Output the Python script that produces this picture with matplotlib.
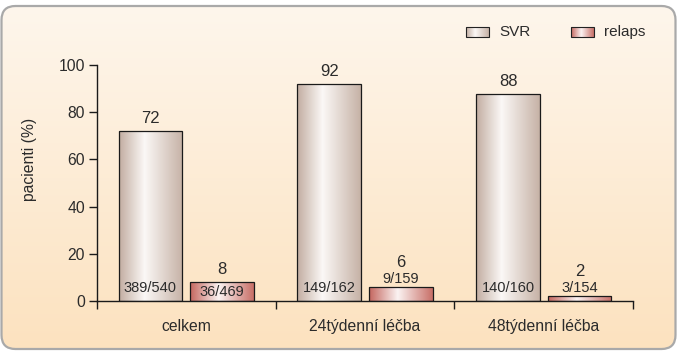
import matplotlib
matplotlib.use("Agg")
import matplotlib.pyplot as plt
import numpy as np
from matplotlib.colors import LinearSegmentedColormap
from matplotlib.patches import FancyBboxPatch, Rectangle

plt.rcParams['font.family'] = ['Liberation Sans', 'DejaVu Sans']

categories = ["celkem", "24týdenní léčba", "48týdenní léčba"]
svr_values = [72, 92, 88]
relaps_values = [8, 6, 2]
svr_counts = ["389/540", "149/162", "140/160"]
relaps_counts = ["36/469", "9/159", "3/154"]
series_names = ["SVR", "relaps"]
yticks = [0, 20, 40, 60, 80, 100]

TXT = "#2b2b2b"
svr_cmap = LinearSegmentedColormap.from_list(
    "svr", [(0, "#c2ada1"), (0.4, "#fbf8f6"), (1, "#c6b2a6")])
rel_cmap = LinearSegmentedColormap.from_list(
    "rel", [(0, "#c4665e"), (0.45, "#fbf3f2"), (1, "#c86f67")])
bg_cmap = LinearSegmentedColormap.from_list("bg", ["#fce2bf", "#fef6ec"])

W, H = 680, 355
fig = plt.figure(figsize=(W / 100, H / 100), dpi=100)
fig.patch.set_facecolor("white")

# background panel
bg = fig.add_axes([0, 0, 1, 1], zorder=-5)
bg.set_xlim(0, W)
bg.set_ylim(0, H)
bg.axis("off")
panel = FancyBboxPatch((1.5, 6), 674, 343, boxstyle="round,pad=0,rounding_size=14",
                       facecolor="none", edgecolor="#a9a9a9", lw=1.6, zorder=3)
bg.add_patch(panel)
grad = np.linspace(0, 1, 256).reshape(-1, 1)
im = bg.imshow(grad, cmap=bg_cmap, origin="lower", extent=(1.5, 675.5, 6, 349),
               aspect="auto", zorder=1)
im.set_clip_path(panel)

# legend (manual, with gradient swatches)
hgrad = np.linspace(0, 1, 256).reshape(1, -1)
for name, cmap, x0 in zip(series_names, [svr_cmap, rel_cmap], [466, 571]):
    r = Rectangle((x0, 318), 23, 10, facecolor="none", edgecolor="#222222", lw=0.8, zorder=5)
    bg.add_patch(r)
    g = bg.imshow(hgrad, cmap=cmap, extent=(x0, x0 + 23, 318, 328), aspect="auto", zorder=4)
    g.set_clip_path(r)
    bg.text(x0 + 33, 323, name, fontsize=11, color=TXT, va="center", ha="left")

# main axes
ax = fig.add_axes([96.7 / W, (H - 300.7) / H, (633.3 - 96.7) / W, (300.7 - 65.3) / H])
ax.set_facecolor("none")
x = np.arange(len(categories))
width = 0.356
off = 0.2

for vals, cmap, dx in [(svr_values, svr_cmap, -off), (relaps_values, rel_cmap, off)]:
    bars = ax.bar(x + dx, vals, width=width, facecolor="none", edgecolor="#1a1a1a",
                  lw=0.9, zorder=3)
    for b in bars:
        gi = ax.imshow(hgrad, cmap=cmap, aspect="auto", zorder=2,
                       extent=(b.get_x(), b.get_x() + b.get_width(), 0, b.get_height()))
        gi.set_clip_path(b)

for i in range(len(categories)):
    ax.text(x[i] - off, svr_values[i] + 5.2, str(svr_values[i]), ha="center", va="center",
            fontsize=12, color=TXT)
    ax.text(x[i] - off, 5.4, svr_counts[i], ha="center", va="center", fontsize=10.5, color=TXT)
    rv = relaps_values[i]
    if rv >= 8:
        ax.text(x[i] + off, 3.6, relaps_counts[i], ha="center", va="center", fontsize=10.5, color=TXT)
        ax.text(x[i] + off, rv + 5.2, str(rv), ha="center", va="center", fontsize=12, color=TXT)
    else:
        ax.text(x[i] + off, rv + 3.2, relaps_counts[i], ha="center", va="center", fontsize=10.5, color=TXT)
        ax.text(x[i] + off, rv + 10.4, str(rv), ha="center", va="center", fontsize=12, color=TXT)

ax.set_xlim(-0.5, len(categories) - 0.5)
ax.set_ylim(0, 100)
ax.set_yticks(yticks)
ax.set_yticklabels([str(t) for t in yticks], fontsize=11.3, color=TXT)
ax.set_xticks(x)
ax.set_xticklabels(categories, fontsize=11.3, color=TXT)
ax.set_xticks(np.arange(-0.5, len(categories), 1.0), minor=True)
ax.tick_params(axis="x", which="major", length=0, pad=13)
ax.tick_params(axis="x", which="minor", length=6, width=1, direction="out", color="#1a1a1a")
ax.tick_params(axis="y", length=5.5, width=1, direction="out", color="#1a1a1a", pad=3)
for s in ["top", "right"]:
    ax.spines[s].set_visible(False)
for s in ["left", "bottom"]:
    ax.spines[s].set_linewidth(1)
    ax.spines[s].set_color("#1a1a1a")
ax.set_ylabel("pacienti (%)", fontsize=11.3, color=TXT)
ax.yaxis.set_label_coords(-0.111, 0.60)

fig.savefig("out.png", dpi=100)
